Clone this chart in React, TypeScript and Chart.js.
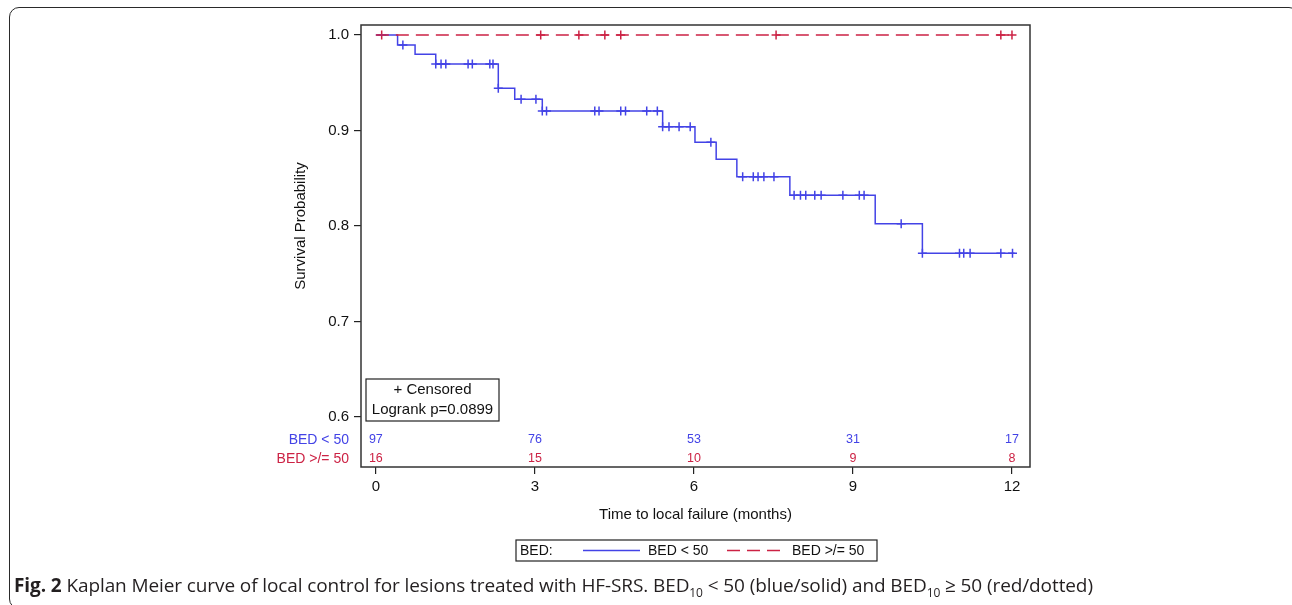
import React, { useEffect, useRef } from 'react';
import { Chart, registerables } from 'chart.js';
Chart.register(...registerables);

// Kaplan–Meier step data (time in months, survival probability)
const blueTimes = [0, 0.41, 0.74, 1.13, 2.31, 2.62, 3.14, 5.41, 6.02, 6.42, 6.81, 7.81, 9.42, 10.31, 12.05];
const blueSurv = [1.0, 0.9895, 0.9798, 0.9696, 0.9442, 0.9327, 0.9204, 0.904, 0.8877, 0.8699, 0.8517, 0.8321, 0.8024, 0.7714, 0.7714];
const blueCensor = [0.51, 1.13, 1.23, 1.32, 1.74, 1.82, 2.15, 2.21, 2.31, 2.74, 3.02, 3.14, 3.22, 4.13, 4.21, 4.62, 4.71, 5.11, 5.31, 5.41, 5.53, 5.72, 5.93, 6.32, 6.92, 7.12, 7.21, 7.32, 7.51, 7.89, 8.01, 8.11, 8.28, 8.4, 8.81, 9.12, 9.21, 9.91, 10.31, 11.01, 11.09, 11.21, 11.79, 12.01];
const redTimes = [0, 12.0];
const redSurv = [1.0, 1.0];
const redCensor = [0.11, 3.11, 3.83, 4.32, 4.62, 7.55, 11.79, 12.0];

const xTicks = [0, 3, 6, 9, 12];
const yTicks = [0.6, 0.7, 0.8, 0.9, 1.0];
const atRiskBlue = [97, 76, 53, 31, 17];
const atRiskRed = [16, 15, 10, 9, 8];
const groupLabels = ['BED < 50', 'BED >/= 50'];
const insetLines = ['+ Censored', 'Logrank p=0.0899'];

const BLUE = '#4343e6';
const RED = '#cc2244';
const FONT = "'Liberation Sans', Arial, Helvetica, sans-serif";

function survAt(times: number[], surv: number[], t: number) {
  let v = surv[0];
  for (let i = 0; i < times.length; i++) {
    if (times[i] <= t + 1e-9) v = surv[i];
  }
  return v;
}

const decorPlugin = {
  id: 'decor',
  afterDraw(chart: any) {
    const { ctx, chartArea: a, scales } = chart;
    const xs = scales.x;
    ctx.save();
    // frame
    ctx.strokeStyle = '#333';
    ctx.lineWidth = 1.5;
    ctx.strokeRect(a.left, a.top, a.right - a.left, a.bottom - a.top);

    // inset box
    const bx = a.left + 5, by = 379, bw = 133, bh = 42;
    ctx.lineWidth = 1.2;
    ctx.strokeStyle = '#222';
    ctx.strokeRect(bx, by, bw, bh);
    ctx.fillStyle = '#111';
    ctx.font = `15px ${FONT}`;
    ctx.textAlign = 'center';
    ctx.textBaseline = 'middle';
    ctx.fillText(insetLines[0], bx + bw / 2, by + 11);
    ctx.fillText(insetLines[1], bx + bw / 2, by + 31);

    // at-risk table
    ctx.font = `12.5px ${FONT}`;
    for (let i = 0; i < xTicks.length; i++) {
      const px = xs.getPixelForValue(xTicks[i]);
      ctx.fillStyle = BLUE;
      ctx.fillText(String(atRiskBlue[i]), px, 440);
      ctx.fillStyle = RED;
      ctx.fillText(String(atRiskRed[i]), px, 459);
    }
    ctx.font = `14px ${FONT}`;
    ctx.textAlign = 'right';
    ctx.fillStyle = BLUE;
    ctx.fillText(groupLabels[0], 349, 440);
    ctx.fillStyle = RED;
    ctx.fillText(groupLabels[1], 349, 459);

    // axis titles
    ctx.fillStyle = '#111';
    ctx.font = `15px ${FONT}`;
    ctx.textAlign = 'center';
    ctx.fillText('Time to local failure (months)', (a.left + a.right) / 2, 515);
    ctx.save();
    ctx.translate(301, scales.y.getPixelForValue(0.8));
    ctx.rotate(-Math.PI / 2);
    ctx.fillText('Survival Probability', 0, 0);
    ctx.restore();

    // legend
    const lx = 516, ly = 540, lw = 361, lh = 21;
    ctx.lineWidth = 1.2;
    ctx.strokeStyle = '#222';
    ctx.strokeRect(lx, ly, lw, lh);
    ctx.font = `14px ${FONT}`;
    ctx.textAlign = 'left';
    ctx.fillStyle = '#111';
    ctx.fillText('BED:', 520, ly + lh / 2 + 0.5);
    ctx.lineWidth = 1.5;
    ctx.strokeStyle = BLUE;
    ctx.beginPath();
    ctx.moveTo(583, ly + lh / 2);
    ctx.lineTo(640, ly + lh / 2);
    ctx.stroke();
    ctx.fillStyle = '#111';
    ctx.fillText(groupLabels[0], 648, ly + lh / 2 + 0.5);
    ctx.strokeStyle = RED;
    ctx.setLineDash([13, 7]);
    ctx.beginPath();
    ctx.moveTo(727, ly + lh / 2);
    ctx.lineTo(780, ly + lh / 2);
    ctx.stroke();
    ctx.setLineDash([]);
    ctx.fillText(groupLabels[1], 792, ly + lh / 2 + 0.5);
    ctx.restore();
  },
};

export default function App() {
  const ref = useRef<HTMLCanvasElement>(null);
  useEffect(() => {
    if (!ref.current) return;
    const blueLine = blueTimes.map((t, i) => ({ x: t, y: blueSurv[i] }));
    const redLine = redTimes.map((t, i) => ({ x: t, y: redSurv[i] }));
    const blueMarks = blueCensor.map((t) => ({ x: t, y: survAt(blueTimes, blueSurv, t) }));
    const redMarks = redCensor.map((t) => ({ x: t, y: survAt(redTimes, redSurv, t) }));
    const chart = new Chart(ref.current, {
      type: 'line',
      data: {
        datasets: [
          { data: redLine, borderColor: RED, borderWidth: 1.5, borderDash: [13, 7], pointRadius: 0, stepped: true, fill: false },
          { data: blueLine, borderColor: BLUE, borderWidth: 1.5, pointRadius: 0, stepped: true, fill: false },
          { data: blueMarks, showLine: false, pointStyle: 'cross', pointRadius: 4.5, pointBorderWidth: 1.5, pointBorderColor: BLUE, borderColor: BLUE },
          { data: redMarks, showLine: false, pointStyle: 'cross', pointRadius: 4.5, pointBorderWidth: 1.5, pointBorderColor: RED, borderColor: RED },
        ],
      },
      options: {
        animation: false,
        responsive: false,
        devicePixelRatio: 1,
        clip: false as any,
        layout: { padding: { top: 25, right: 262, left: 0, bottom: 98 } },
        plugins: { legend: { display: false }, tooltip: { enabled: false } },
        scales: {
          x: {
            type: 'linear',
            min: -0.28,
            max: 12.34,
            afterBuildTicks: (s: any) => { s.ticks = xTicks.map((v) => ({ value: v })); },
            afterFit: (s: any) => { s.height = 40; },
            border: { display: false },
            grid: { drawOnChartArea: false, drawTicks: true, tickLength: 7, color: '#222', lineWidth: 1.2 },
            ticks: { color: '#111', font: { family: FONT, size: 15 }, padding: 4, maxRotation: 0, callback: (v: any) => String(v) },
          },
          y: {
            type: 'linear',
            min: 0.5476,
            max: 1.0105,
            afterBuildTicks: (s: any) => { s.ticks = yTicks.map((v) => ({ value: v })); },
            afterFit: (s: any) => { s.width = 361; },
            border: { display: false },
            grid: { drawOnChartArea: false, drawTicks: true, tickLength: 7, color: '#222', lineWidth: 1.2 },
            ticks: { color: '#111', font: { family: FONT, size: 15 }, padding: 5, callback: (v: any) => Number(v).toFixed(1) },
          },
        },
      },
      plugins: [decorPlugin],
    });
    return () => chart.destroy();
  }, []);

  return (
    <div style={{ position: 'fixed', left: 0, top: 0, width: 1292, height: 605, background: '#fff', overflow: 'hidden' }}>
      <div style={{ position: 'absolute', left: 9, top: 7, width: 1290, height: 602, border: '1.6px solid #2a2a2a', borderRadius: 10, boxSizing: 'border-box' }} />
      <canvas ref={ref} width={1292} height={605} style={{ position: 'absolute', left: 0, top: 0 }} />
      <div style={{ position: 'absolute', left: 14, top: 572, lineHeight: '26px', fontFamily: "'Open Sans', sans-serif", fontSize: 19, color: '#231f20', whiteSpace: 'nowrap', letterSpacing: '-0.1px' }}>
        <b>Fig. 2</b> Kaplan Meier curve of local control for lesions treated with HF-SRS. BED<sub style={{ fontSize: 12, lineHeight: 0 }}>10</sub> &lt; 50 (blue/solid) and BED<sub style={{ fontSize: 12, lineHeight: 0 }}>10</sub> ≥ 50 (red/dotted)
      </div>
    </div>
  );
}
